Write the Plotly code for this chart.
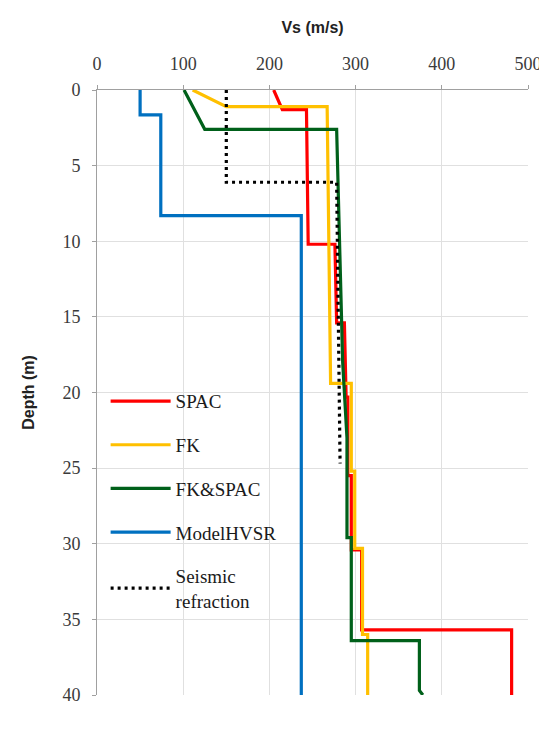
import plotly.graph_objects as go

# SPAC
spac_vs = [205, 215, 243, 245, 276, 278, 287, 289, 291, 291, 295, 295, 307, 307, 481, 481]
spac_depth = [0, 1.3, 1.3, 10.2, 10.2, 15.4, 15.4, 20.3, 20.3, 25.5, 25.5, 30.4, 30.4, 35.7, 35.7, 40]
# FK
fk_vs = [111, 150, 267, 271, 295, 295, 299, 299, 308, 308, 314, 314]
fk_depth = [0, 1.1, 1.1, 19.4, 19.4, 25.2, 25.2, 30.3, 30.3, 36.0, 36.0, 40]
# FK&SPAC
fks_vs = [101, 125, 278, 282, 285, 290, 290, 295, 295, 374, 374, 378]
fks_depth = [0, 2.6, 2.6, 12, 18, 23, 29.6, 29.6, 36.4, 36.4, 39.7, 40]
# ModelHVSR
hvsr_vs = [50, 50, 74, 74, 237, 237]
hvsr_depth = [0, 1.65, 1.65, 8.3, 8.3, 40]
# Seismic refraction
seis_vs = [150, 150, 278, 280, 282]
seis_depth = [0, 6.1, 6.1, 15, 24.7]

x_ticks = [0, 100, 200, 300, 400, 500]
y_ticks = [0, 5, 10, 15, 20, 25, 30, 35, 40]

fig = go.Figure()
series = [
    ("SPAC", spac_vs, spac_depth, "#ff0000", "solid"),
    ("FK", fk_vs, fk_depth, "#ffc000", "solid"),
    ("FK&SPAC", fks_vs, fks_depth, "#00601a", "solid"),
    ("ModelHVSR", hvsr_vs, hvsr_depth, "#0070c0", "solid"),
    ("Seismic<br>refraction", seis_vs, seis_depth, "#000000", "3px,4px"),
]
for name, xs, ys, col, dash in series:
    fig.add_trace(go.Scatter(x=xs, y=ys, mode="lines", name=name, legendgroup=name,
                             line=dict(color=col, width=3.2, dash=dash)))

fig.update_layout(
    width=539, height=728,
    margin=dict(l=89, r=19, t=82, b=41),
    paper_bgcolor="white", plot_bgcolor="white",
    showlegend=True,
    legend=dict(x=0.02, y=0.517, xanchor="left", yanchor="top",
                bgcolor="rgba(0,0,0,0)", itemwidth=60, tracegroupgap=16,
                font=dict(family="Liberation Serif", size=19, color="#1a1a1a")),
    xaxis=dict(side="top", range=[0, 500], tickvals=x_ticks, automargin=False,
               showgrid=True, gridcolor="#e0e0e0", gridwidth=1,
               showline=True, linecolor="#a0a0a0", linewidth=1,
               ticks="outside", ticklen=4, tickcolor="#a0a0a0",
               tickfont=dict(family="Liberation Serif", size=18, color="#3a3a3a"),
               zeroline=False, ticklabelstandoff=8,
               title=dict(text="<b>Vs (m/s)</b>", standoff=16,
                          font=dict(family="Liberation Sans", size=16, color="#222222"))),
    yaxis=dict(range=[40, 0], tickvals=y_ticks, automargin=False,
               showgrid=True, gridcolor="#e0e0e0", gridwidth=1,
               showline=True, linecolor="#a0a0a0", linewidth=1,
               ticks="outside", ticklen=4, tickcolor="#a0a0a0",
               tickfont=dict(family="Liberation Serif", size=18, color="#3a3a3a"),
               zeroline=False, ticklabelstandoff=8,
               title=dict(text="<b>Depth (m)</b>", standoff=23,
                          font=dict(family="Liberation Sans", size=16, color="#222222"))),
)
fig.write_html("out.html")
